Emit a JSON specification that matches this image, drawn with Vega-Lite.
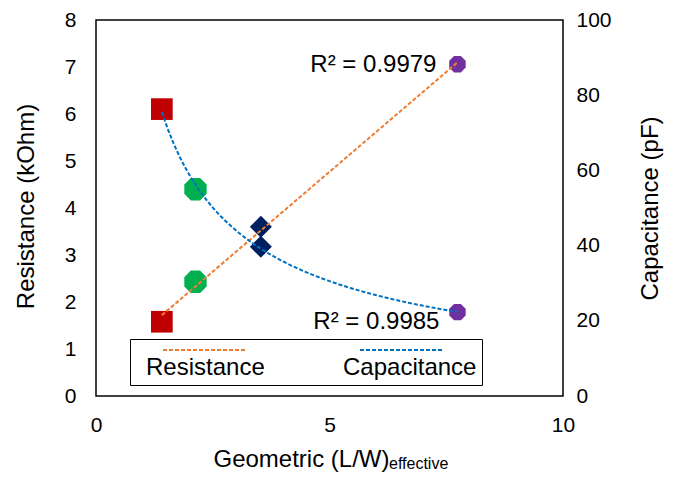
{
  "$schema": "https://vega.github.io/schema/vega-lite/v6.json",
  "width": 467,
  "height": 376,
  "autosize": {"type": "none"},
  "padding": {"left": 96, "top": 20, "right": 120, "bottom": 81},
  "background": "white",
  "config": {
    "font": "Liberation Sans",
    "view": {"stroke": "black", "strokeWidth": 1.5},
    "axis": {"grid": false, "ticks": false, "domain": false, "labelColor": "black", "titleColor": "black", "labelFontSize": 21, "titleFontSize": 24, "titleFontWeight": "normal", "labelFlush": false, "labelOverlap": false}
  },
  "title": {"text": "effective", "orient": "bottom", "anchor": "start", "frame": "group", "dx": 293, "offset": -15, "fontSize": 16, "fontWeight": "normal", "color": "black"},
  "datasets": {
    "points": [
      {"x": 1.41, "value": 1.58, "series": "Resistance", "g": "A"},
      {"x": 2.13, "value": 2.43, "series": "Resistance", "g": "B"},
      {"x": 3.53, "value": 3.6, "series": "Resistance", "g": "C"},
      {"x": 7.74, "value": 7.06, "series": "Resistance", "g": "D"},
      {"x": 1.41, "value": 76.3, "series": "Capacitance", "g": "A"},
      {"x": 2.13, "value": 55.0, "series": "Capacitance", "g": "B"},
      {"x": 3.53, "value": 39.7, "series": "Capacitance", "g": "C"},
      {"x": 7.74, "value": 22.3, "series": "Capacitance", "g": "D"}
    ],
    "notes": [
      {"x": 7.74, "value": 7.06, "series": "Resistance", "label": "R² = 0.9979"},
      {"x": 7.74, "value": 22.3, "series": "Capacitance", "label": "R² = 0.9985"}
    ]
  },
  "encoding": {
    "x": {"field": "x", "type": "quantitative", "scale": {"domain": [0, 10]},
      "axis": {"values": [0, 5, 10], "title": "Geometric (L/W)", "labelPadding": 18, "titleX": 205, "titleY": 70, "titleAlign": "center", "titleBaseline": "alphabetic"}}
  },
  "layer": [
    {
      "encoding": {
        "y": {"field": "value", "type": "quantitative", "scale": {"domain": [0, 8]},
          "axis": {"values": [0, 1, 2, 3, 4, 5, 6, 7, 8], "title": "Resistance (kOhm)", "orient": "left", "labelPadding": 20, "titleAngle": 270, "titleX": -63, "titleY": 186, "titleAlign": "center", "titleBaseline": "alphabetic"}}
      },
      "layer": [
        {
          "data": {"name": "points"},
          "transform": [{"filter": "datum.series === 'Resistance'"}],
          "mark": {"type": "point", "filled": true, "opacity": 1, "strokeWidth": 0},
          "encoding": {
            "color": {"field": "g", "type": "nominal", "scale": {"domain": ["A", "B", "C", "D"], "range": ["#C00000", "#00B050", "#002060", "#7030A0"]}, "legend": null},
            "shape": {"field": "g", "type": "nominal", "scale": {"domain": ["A", "B", "C", "D"], "range": ["square", "M-0.414,-1L0.414,-1L1,-0.414L1,0.414L0.414,1L-0.414,1L-1,0.414L-1,-0.414Z", "diamond", "M-0.414,-1L0.414,-1L1,-0.414L1,0.414L0.414,1L-0.414,1L-1,0.414L-1,-0.414Z"]}, "legend": null},
            "size": {"field": "g", "type": "nominal", "scale": {"type": "ordinal", "domain": ["A", "B", "C", "D"], "range": [470, 500, 484, 270]}, "legend": null}
          }
        },
        {
          "data": {"name": "points"},
          "transform": [
            {"filter": "datum.series === 'Resistance'"},
            {"regression": "value", "on": "x", "method": "linear", "groupby": ["series"]}
          ],
          "mark": {"type": "line", "strokeDash": [4, 2], "strokeWidth": 2},
          "encoding": {
            "stroke": {"field": "series", "type": "nominal",
              "scale": {"domain": ["Resistance", "Capacitance"], "range": ["#ED7D31", "#0070C0"]},
              "legend": {"orient": "none", "legendX": 34, "legendY": 319, "direction": "horizontal", "columns": 2, "title": null,
                "padding": 5, "fillColor": "white", "strokeColor": "black",
                "symbolType": "M-7,-1L7,-1", "symbolSize": 144, "symbolStrokeWidth": 2, "symbolDash": [4, 2], "symbolFillColor": "transparent",
                "labelBaseline": "top", "labelFontSize": 24, "labelColor": "black", "labelLimit": 300,
                "symbolOffset": 58, "labelOffset": -71, "columnPadding": 67}}
          }
        },
        {
          "data": {"name": "notes"},
          "transform": [{"filter": "datum.series === 'Resistance'"}],
          "mark": {"type": "text", "align": "right", "baseline": "middle", "dx": -21, "dy": 1, "fontSize": 24, "color": "black"},
          "encoding": {"text": {"field": "label"}}
        }
      ]
    },
    {
      "encoding": {
        "y": {"field": "value", "type": "quantitative", "scale": {"domain": [0, 100]},
          "axis": {"values": [0, 20, 40, 60, 80, 100], "title": "Capacitance (pF)", "orient": "right", "labelPadding": 13, "titleAngle": 270, "titleX": 94, "titleY": 188, "titleAlign": "center", "titleBaseline": "alphabetic"}}
      },
      "layer": [
        {
          "data": {"name": "points"},
          "transform": [{"filter": "datum.series === 'Capacitance'"}],
          "mark": {"type": "point", "filled": true, "opacity": 1, "strokeWidth": 0},
          "encoding": {
            "color": {"field": "g", "type": "nominal", "scale": {"domain": ["A", "B", "C", "D"], "range": ["#C00000", "#00B050", "#002060", "#7030A0"]}, "legend": null},
            "shape": {"field": "g", "type": "nominal", "scale": {"domain": ["A", "B", "C", "D"], "range": ["square", "M-0.414,-1L0.414,-1L1,-0.414L1,0.414L0.414,1L-0.414,1L-1,0.414L-1,-0.414Z", "diamond", "M-0.414,-1L0.414,-1L1,-0.414L1,0.414L0.414,1L-0.414,1L-1,0.414L-1,-0.414Z"]}, "legend": null},
            "size": {"field": "g", "type": "nominal", "scale": {"type": "ordinal", "domain": ["A", "B", "C", "D"], "range": [470, 500, 484, 270]}, "legend": null}
          }
        },
        {
          "data": {"name": "points"},
          "transform": [
            {"filter": "datum.series === 'Capacitance'"},
            {"regression": "value", "on": "x", "method": "pow", "groupby": ["series"]}
          ],
          "mark": {"type": "line", "strokeDash": [4, 2], "strokeWidth": 2},
          "encoding": {
            "stroke": {"field": "series", "type": "nominal"}
          }
        },
        {
          "data": {"name": "notes"},
          "transform": [{"filter": "datum.series === 'Capacitance'"}],
          "mark": {"type": "text", "align": "right", "baseline": "middle", "dx": -18, "dy": 10, "fontSize": 24, "color": "black"},
          "encoding": {"text": {"field": "label"}}
        }
      ]
    }
  ],
  "resolve": {"scale": {"y": "independent"}}
}
